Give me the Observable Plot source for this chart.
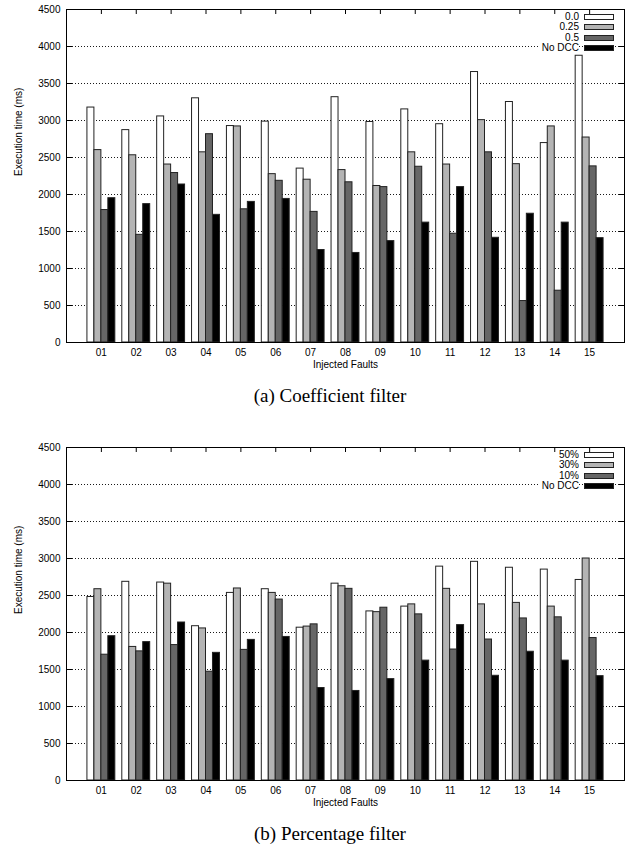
<!DOCTYPE html>
<html>
<head>
<meta charset="utf-8">
<script src="https://cdn.jsdelivr.net/npm/d3@7"></script>
<script src="https://cdn.jsdelivr.net/npm/@observablehq/plot@0.6"></script>
<style>
  html, body { margin: 0; padding: 0; background: #fff; }
  body { width: 632px; height: 846px; position: relative; overflow: hidden; }
  .block { position: absolute; left: 0; width: 632px; height: 410px; }
  .block svg { display: block; }
  .caption { position: absolute; left: 0; width: 660px; text-align: center;
    font-family: "Liberation Serif", "Times New Roman", serif; font-size: 19px; color: #000; line-height: 24px; }
  .lg-text { position: absolute; font-family: "Liberation Sans", Arial, sans-serif; font-size: 10px;
    line-height: 11px; color: #000; text-align: right; background: #fff; padding-left: 2px; }
  .lg-sw { position: absolute; box-sizing: border-box; border: 1px solid #222; }
</style>
</head>
<body>
<div id="a" class="block" style="top:0px"></div>
<div id="b" class="block" style="top:438px"></div>
<script>
const cats = ["01","02","03","04","05","06","07","08","09","10","11","12","13","14","15"];
const coefSeries = ["0.0","0.25","0.5","No DCC"];
const pctSeries = ["50%","30%","10%","No DCC"];

// (a) Coefficient filter
const coef00  = [3175,2870,3055,3300,2925,2985,2350,3315,2980,3150,2950,3655,3250,2695,3875];
const coef025 = [2600,2530,2405,2570,2920,2275,2200,2330,2115,2570,2405,3005,2410,2920,2770];
const coef05  = [1790,1455,2290,2815,1800,2185,1765,2165,2100,2375,1470,2570,560,700,2380];
// (b) Percentage filter
const pct50 = [2480,2685,2675,2085,2535,2585,2065,2660,2285,2350,2890,2955,2875,2850,2710];
const pct30 = [2585,1805,2660,2055,2595,2535,2080,2625,2275,2380,2590,2380,2400,2350,3000];
const pct10 = [1700,1745,1830,1470,1765,2445,2110,2590,2335,2245,1770,1905,2190,2205,1925];
// baseline shared by both
const noDCC = [1950,1870,2135,1725,1900,1940,1250,1210,1370,1620,2100,1415,1740,1620,1410];

const yTicks = [0,500,1000,1500,2000,2500,3000,3500,4000,4500];
const gridTicks = [500,1000,1500,2000,2500,3000,3500,4000];
const fills = ["#ffffff","#b4b4b4","#666666","#000000"];
const yLabel = "Execution time (ms)";
const xLabel = "Injected Faults";
const captions = ["(a) Coefficient filter", "(b) Percentage filter"];

function chart(seriesNames, seriesValues) {
  const rows = [];
  seriesValues.forEach((vals, j) => vals.forEach((v, i) =>
    rows.push({pos: i + 1, j, series: seriesNames[j], value: v})));
  const xTicks = cats.map((c, i) => i + 1);
  const w = 0.2; // bar width in category units (4 bars + 1 gap)
  return Plot.plot({
    width: 632, height: 375,
    marginLeft: 66, marginRight: 8, marginTop: 9, marginBottom: 33,
    style: {fontFamily: "'Liberation Sans', Arial, sans-serif", fontSize: "10px", background: "white", color: "#000"},
    x: {domain: [0, 16], axis: null},
    y: {domain: [0, 4500], axis: null},
    color: {domain: seriesNames, range: fills},
    marks: [
      Plot.ruleY(gridTicks, {stroke: "#000", strokeDasharray: "1,2", strokeWidth: 0.9}),
      Plot.rectY(rows, {
        x1: d => d.pos + (d.j - 2) * w,
        x2: d => d.pos + (d.j - 1) * w,
        y1: 0, y2: "value", fill: "series", stroke: "#222", strokeWidth: 1
      }),
      Plot.axisY(yTicks, {anchor: "left", tickSize: 0, tickPadding: 6, tickFormat: d => String(d), label: null, fontSize: 10}),
      Plot.axisY(yTicks, {anchor: "left", tickSize: -6, fill: "none", label: null}),
      Plot.axisY(yTicks, {anchor: "right", tickSize: -6, fill: "none", label: null}),
      Plot.axisX(xTicks, {anchor: "bottom", tickSize: 0, tickPadding: 6, tickFormat: t => cats[t - 1], label: null, fontSize: 10}),
      Plot.axisX(xTicks, {anchor: "top", tickSize: -4, fill: "none", label: null}),
      Plot.frame({stroke: "#000", strokeWidth: 1}),
      Plot.text([yLabel], {frameAnchor: "left", rotate: -90, dx: -48, text: d => d, fontSize: 10}),
      Plot.text([xLabel], {frameAnchor: "bottom", dy: 25, text: d => d, fontSize: 10})
    ]
  });
}

function legend(el, names) {
  const rowY = [16.5, 27, 37.5, 48];
  names.forEach((n, i) => {
    const t = document.createElement("div");
    t.className = "lg-text";
    t.textContent = n;
    t.style.right = (632 - 579) + "px";
    t.style.top = (rowY[i] - 6) + "px";
    el.appendChild(t);
    const s = document.createElement("div");
    s.className = "lg-sw";
    s.style.left = "584px";
    s.style.width = "30px";
    s.style.top = (rowY[i] - 3) + "px";
    s.style.height = "6px";
    s.style.background = fills[i];
    el.appendChild(s);
  });
}

function caption(el, text) {
  const c = document.createElement("div");
  c.className = "caption";
  c.style.top = "384px";
  c.textContent = text;
  el.appendChild(c);
}

const A = document.getElementById("a");
A.appendChild(chart(coefSeries, [coef00, coef025, coef05, noDCC]));
legend(A, coefSeries);
caption(A, captions[0]);

const B = document.getElementById("b");
B.appendChild(chart(pctSeries, [pct50, pct30, pct10, noDCC]));
legend(B, pctSeries);
caption(B, captions[1]);
</script>
</body>
</html>
